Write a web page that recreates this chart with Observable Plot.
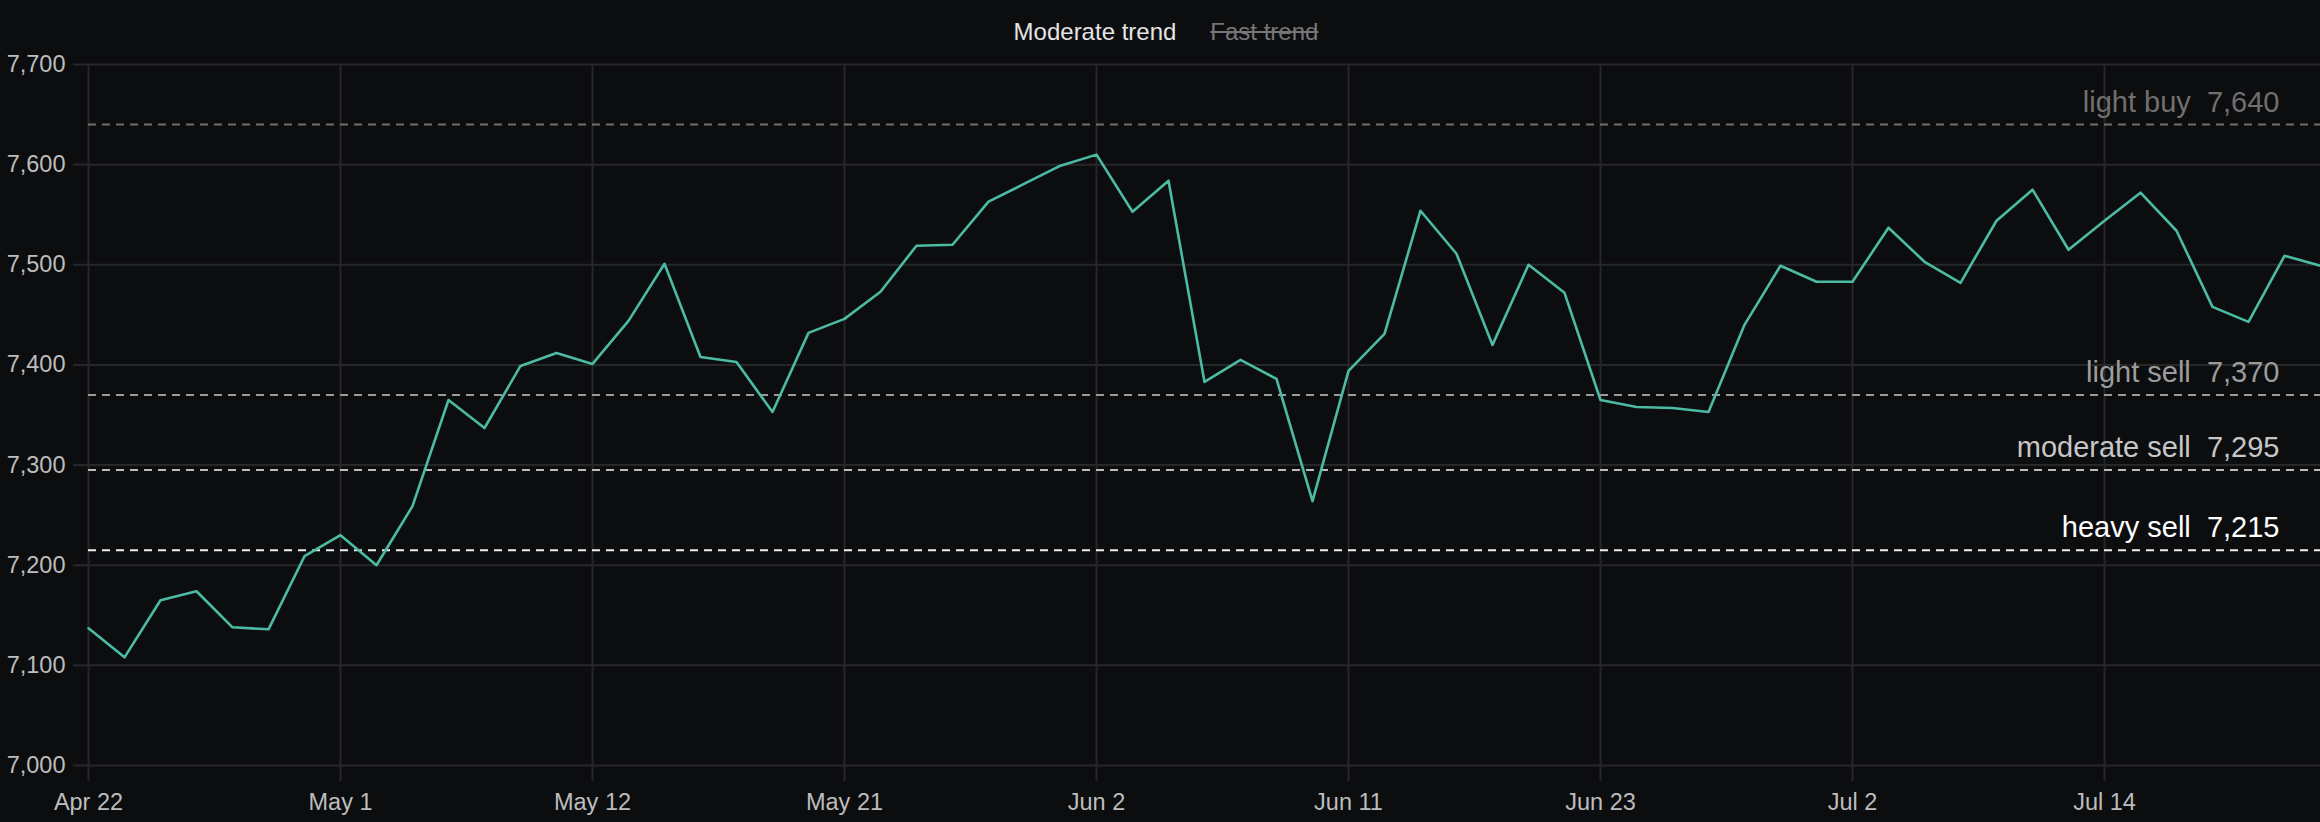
<!DOCTYPE html>
<html>
<head>
<meta charset="utf-8">
<script src="https://cdn.jsdelivr.net/npm/d3@7"></script>
<script src="https://cdn.jsdelivr.net/npm/@observablehq/plot@0.6"></script>
<style>
  html, body { margin: 0; padding: 0; background: #0c0d0f; }
  body { width: 2320px; height: 822px; overflow: hidden; font-family: "Liberation Sans", Arial, Helvetica, sans-serif; }
  #legend { height: 44px; box-sizing: border-box; padding-top: 20px; padding-left: 12px; display: flex; justify-content: center; gap: 34px; font-size: 24px; line-height: 24px; }
  #legend .on { color: #e4e4e4; }
  #legend .off { color: #767676; text-decoration: line-through; }
</style>
</head>
<body>
<div id="legend"><span class="on">Moderate trend</span><span class="off">Fast trend</span></div>
<div id="chart"></div>
<script>
// ---- data ----
const values = [
  7137, 7108, 7165, 7174, 7138, 7136, 7209, 7230, 7200, 7259,
  7365, 7337, 7399, 7412, 7401, 7444, 7501, 7408, 7403, 7353,
  7432, 7446, 7473, 7519, 7520, 7563, 7581, 7599, 7610, 7553,
  7584, 7383, 7405, 7386, 7264, 7394, 7431, 7554, 7511, 7420,
  7500, 7472, 7365, 7358, 7357, 7353, 7440, 7499, 7483, 7483,
  7537, 7503, 7482, 7544, 7575, 7515, 7544, 7572, 7534, 7458,
  7443, 7509, 7499
];
const tickLabels = ["Apr 22", "May 1", "May 12", "May 21", "Jun 2", "Jun 11", "Jun 23", "Jul 2", "Jul 14"];
const tickEvery = 7;
const yTicks = [7000, 7100, 7200, 7300, 7400, 7500, 7600, 7700];
const thresholdLabels = ["light buy", "light sell", "moderate sell", "heavy sell"];
const thresholdValues = [7640, 7370, 7295, 7215];

// ---- styles ----
const lineStrokes = {"light buy": "#6f6f6f", "light sell": "#9a9a9a", "moderate sell": "#bcbcbc", "heavy sell": "#eeeeee"};
const labelFills = {"light buy": "#707070", "light sell": "#9c9c9c", "moderate sell": "#c6c6c6", "heavy sell": "#ffffff"};
const gridColor = "#262729";
const axisText = "#bdbdbd";

const series = values.map((v, i) => ({i, v}));
const thresholds = thresholdLabels.map((label, k) => ({label, value: thresholdValues[k]}));
const xTicks = tickLabels.map((_, k) => k * tickEvery);
const fmt = d3.format(",");

const chart = Plot.plot({
  width: 2320,
  height: 778,
  marginLeft: 88,
  marginRight: 0,
  marginTop: 20,
  marginBottom: 57,
  style: {background: "#0c0d0f", fontFamily: "'Liberation Sans', Arial, Helvetica, sans-serif", overflow: "visible"},
  x: {domain: [0, values.length - 1], label: null},
  y: {domain: [7000, 7700], label: null},
  color: {type: "identity"},
  marks: [
    Plot.gridY(yTicks, {stroke: gridColor, strokeOpacity: 1, strokeWidth: 2}),
    Plot.gridX(xTicks, {stroke: gridColor, strokeOpacity: 1, strokeWidth: 2}),
    Plot.axisY(yTicks, {label: null, tickSize: 15, tickPadding: 8, stroke: gridColor, strokeWidth: 2, strokeOpacity: 1, fill: axisText, fontSize: 23.5, tickFormat: fmt}),
    Plot.axisX(xTicks, {label: null, tickSize: 16, tickPadding: 12, stroke: gridColor, strokeWidth: 2, strokeOpacity: 1, fill: axisText, fontSize: 23.5, tickFormat: d => tickLabels[d / tickEvery]}),
    Plot.ruleY(thresholds, {y: "value", stroke: d => lineStrokes[d.label], strokeWidth: 2, strokeDasharray: "8,6"}),
    Plot.text(thresholds, {
      y: "value",
      text: d => `${d.label}\u00a0\u00a0${fmt(d.value)}`,
      frameAnchor: "right",
      textAnchor: "end",
      lineAnchor: "bottom",
      dx: -41,
      dy: -13,
      fill: d => labelFills[d.label],
      fontSize: 29
    }),
    Plot.lineY(series, {x: "i", y: "v", stroke: "#4cbba4", strokeWidth: 2.6})
  ]
});
document.getElementById("chart").appendChild(chart);
</script>
</body>
</html>
